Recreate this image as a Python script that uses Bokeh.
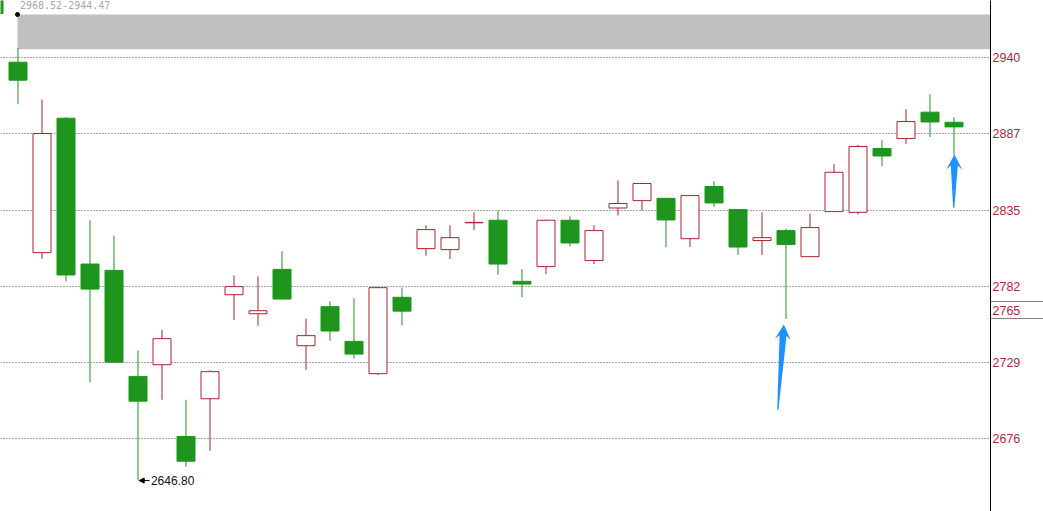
import math
from bokeh.plotting import figure
from bokeh.models import Range1d, FixedTicker, NumeralTickFormatter, Label, Arrow, NormalHead
from bokeh.embed import file_html
from bokeh.resources import INLINE

# ---------------- data ----------------
first_index = -1
opens = [2985.0,
         2937.2, 2805.0, 2898.3, 2797.1, 2792.7, 2719.1, 2727.2, 2677.4, 2703.6, 2775.8,
         2762.6, 2793.4, 2740.4, 2767.5, 2743.4, 2721.0, 2774.0, 2807.8, 2807.1, 2825.7,
         2827.5, 2785.1, 2795.3, 2827.5, 2799.5, 2836.0, 2841.1, 2842.7, 2814.7, 2850.9,
         2834.9, 2813.4, 2820.3, 2802.2, 2833.5, 2833.0, 2877.3, 2884.2, 2902.5, 2895.5]
highs = [2990.0,
         2947.0, 2911.3, 2899.0, 2827.5, 2816.8, 2737.1, 2751.5, 2702.9, 2723.3, 2789.2,
         2788.5, 2805.9, 2759.2, 2771.2, 2773.3, 2781.2, 2780.9, 2824.0, 2824.0, 2833.0,
         2834.2, 2793.6, 2828.0, 2830.2, 2824.0, 2855.2, 2853.6, 2843.0, 2844.8, 2854.6,
         2835.1, 2833.0, 2821.7, 2832.1, 2866.4, 2879.8, 2883.0, 2904.6, 2915.0, 2899.0]
lows = [2968.52,
        2908.0, 2800.8, 2785.1, 2714.9, 2728.5, 2646.8, 2702.9, 2656.4, 2667.5, 2758.2,
        2754.3, 2772.5, 2723.7, 2743.9, 2731.4, 2720.0, 2754.5, 2802.9, 2800.6, 2820.7,
        2789.7, 2774.0, 2790.2, 2809.4, 2797.1, 2830.7, 2834.2, 2808.7, 2808.9, 2836.7,
        2803.4, 2803.4, 2758.9, 2802.0, 2833.3, 2831.4, 2865.0, 2880.5, 2885.3, 2872.6]
closes = [2971.0,
          2924.7, 2887.7, 2789.5, 2779.7, 2729.0, 2701.9, 2745.3, 2660.2, 2722.4, 2781.4,
          2764.7, 2772.8, 2747.4, 2750.6, 2734.6, 2780.7, 2764.4, 2821.0, 2815.4, 2826.0,
          2797.1, 2783.2, 2827.5, 2811.7, 2820.3, 2839.1, 2853.0, 2827.7, 2844.6, 2839.5,
          2808.9, 2815.4, 2810.6, 2822.4, 2860.8, 2878.7, 2872.1, 2896.0, 2895.7, 2892.3]

y_ticks = [2676.0, 2728.85, 2781.7, 2834.55, 2887.4, 2940.25]
gap_label = "2968.52-2944.47"
gap_band = [2946.2, 2970.3]
low_index = 5
low_value = 2646.80
last_price = 2765
last_price_box = [2759.3, 2771.1]
arrow_tips = [(31.93, 2755.1), (39.04, 2873.1)]
arrow_tails = [(31.68, 2695.9), (39.01, 2836.1)]

# ---------------- styles ----------------
UP = "#A8232F"
DOWN = "#1E961E"
LABEL_RED = "#B02A3A"
BLUE = "#1E90FF"

W, H = 1043, 511
FRAME_W, FRAME_H = 990, 511
RIGHT = W - FRAME_W
PX = 24.0                      # pixels per candle slot
x0 = -17.0 / PX
x1 = x0 + FRAME_W / PX
y0, y1 = 2625.33, 2980.02
snap = 0.5 / PX                # half-pixel shift for crisp 1px lines

p = figure(width=W, height=H, output_backend="svg", toolbar_location=None,
           x_range=Range1d(x0, x1), y_range=Range1d(y0, y1),
           x_axis_location=None, y_axis_location="right",
           min_border_left=0, min_border_right=RIGHT,
           min_border_top=0, min_border_bottom=0)
p.outline_line_color = None
p.background_fill_color = "white"
p.border_fill_color = "white"

p.xgrid.visible = False
p.ygrid.ticker = FixedTicker(ticks=y_ticks)
p.ygrid.grid_line_color = "#555555"
p.ygrid.grid_line_dash = "1 2"
p.ygrid.grid_line_width = 1

ax = p.yaxis[0]
ax.ticker = FixedTicker(ticks=sorted(y_ticks + [last_price]), minor_ticks=last_price_box)
ax.formatter = NumeralTickFormatter(format="0")
ax.major_label_text_color = LABEL_RED
ax.major_label_text_font = "Liberation Sans"
ax.major_label_text_font_size = "12.5px"
ax.major_tick_line_color = None
ax.major_tick_out = 0
ax.major_tick_in = 0
ax.minor_tick_line_color = "#808080"
ax.minor_tick_in = 0
ax.minor_tick_out = RIGHT
ax.major_label_standoff = 2 - RIGHT
ax.axis_line_color = "black"
ax.axis_line_width = 1

# gap band
p.quad(left=[0], right=[x1 + 5], bottom=[gap_band[0]], top=[gap_band[1]],
       fill_color="#C0C0C0", line_color=None)

idx = [first_index + k for k in range(len(opens))]
is_up = [c >= o for o, c in zip(opens, closes)]
colors = [UP if u else DOWN for u in is_up]
fills = ["white" if u else DOWN for u in is_up]
hw = 9.0 / PX
xc = [i + snap for i in idx]

p.segment(x0=xc, y0=lows, x1=xc, y1=highs, line_color=colors, line_width=1)
p.quad(left=[x - hw for x in xc], right=[x + hw for x in xc],
       top=[max(o, c) for o, c in zip(opens, closes)],
       bottom=[min(o, c) for o, c in zip(opens, closes)],
       fill_color=fills, line_color=colors, line_width=1)

# gap marker dot
p.scatter(x=[0], y=[gap_band[1]], size=4, fill_color="black", line_color="black")

# gap label
p.add_layout(Label(x=2.5 / PX, y=y1 - 0.6, text=gap_label, text_baseline="top",
                   text_align="left", text_font="DejaVu Sans Mono",
                   text_font_size="10px", text_color="#A8A8A8"))

# low annotation
p.add_layout(Arrow(end=NormalHead(size=5, fill_color="black", line_color="black"),
                   x_start=low_index + 0.5, y_start=low_value,
                   x_end=low_index + 0.07, y_end=low_value,
                   line_color="black", line_width=1))
p.add_layout(Label(x=low_index + 0.56, y=low_value, text=f"{low_value:.2f}",
                   text_baseline="middle", text_align="left",
                   text_font="Liberation Sans", text_font_size="12px",
                   text_color="#111111"))

# blue arrows
sx = FRAME_W / (x1 - x0)
sy = FRAME_H / (y1 - y0)
xs, ys = [], []
for (tx, ty), (bx, by) in zip(arrow_tips, arrow_tails):
    TX, TY = tx * sx, ty * sy
    BX, BY = bx * sx, by * sy
    dx, dy = BX - TX, BY - TY
    L = math.hypot(dx, dy)
    dx, dy = dx / L, dy / L
    nx, ny = -dy, dx
    pts = [
        (TX, TY),
        (TX + 15 * dx + 8 * nx, TY + 15 * dy + 8 * ny),
        (TX + 11 * dx + 3.5 * nx, TY + 11 * dy + 3.5 * ny),
        (BX + 0.6 * nx, BY + 0.6 * ny),
        (BX - 0.6 * nx, BY - 0.6 * ny),
        (TX + 11 * dx - 3.5 * nx, TY + 11 * dy - 3.5 * ny),
        (TX + 15 * dx - 8 * nx, TY + 15 * dy - 8 * ny),
    ]
    xs.append([q[0] / sx for q in pts])
    ys.append([q[1] / sy for q in pts])
p.patches(xs=xs, ys=ys, fill_color=BLUE, line_color=None)

open("out.html", "w").write(file_html(p, INLINE))
